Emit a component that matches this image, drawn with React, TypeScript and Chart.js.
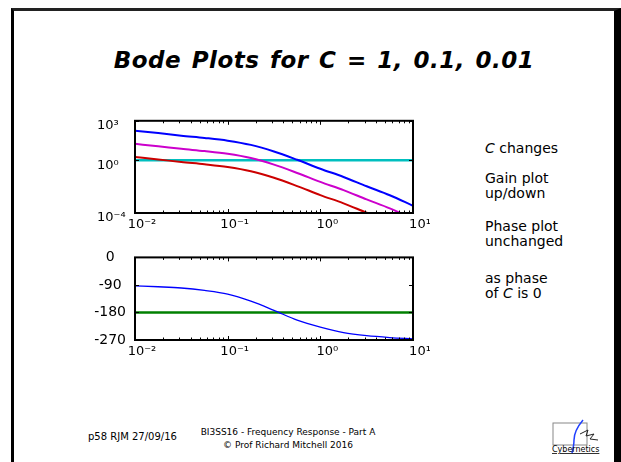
import React, { useEffect, useRef } from "react";
import { Chart, registerables } from "chart.js";
Chart.register(...registerables);

// ---- data ----
const freqs = [0.01, 0.0178, 0.0316, 0.0562, 0.1, 0.178, 0.316, 0.562, 1, 1.78, 3.16, 5.62, 10];
const gainC1 = [178, 117, 74, 50, 31, 14.8, 4.7, 1.1, 0.23, 0.054, 0.0107, 0.00224, 0.000355];
const gainC01 = [17.8, 11.7, 7.4, 5.0, 3.1, 1.48, 0.47, 0.11, 0.023, 0.0054, 0.00107, 0.000224, 0.0000355];
const gainC001 = [1.78, 1.17, 0.74, 0.5, 0.31, 0.148, 0.047, 0.011, 0.0023, 0.00054, 0.000107, 0.0000224, 0.00000355];
const gainOfC = [1, 1, 1, 1, 1, 1, 1, 1, 1, 1, 1, 1, 1];
const phaseG = [-93, -96, -100, -108, -120, -143, -173, -205, -228, -246, -256, -262, -266];
const phaseOfC = [-180, -180, -180, -180, -180, -180, -180, -180, -180, -180, -180, -180, -180];

const freqTicks = [0.01, 0.1, 1, 10];
const freqTickLabels = ["10⁻²", "10⁻¹", "10⁰", "10¹"];
const gainTicks = [1e-4, 1, 1e3];
const gainTickLabels = ["10⁻⁴", "10⁰", "10³"];
const phaseTicks = [-270, -180, -90, 0];
const phaseTickLabels = ["-270", "-180", "-90", "0"];

const FONT = "'DejaVu Sans', sans-serif";

const boxPlugin = {
  id: "bodeBox",
  afterDatasetsDraw(chart: any) {
    const { ctx, chartArea: a, scales } = chart;
    const x = scales.x;
    const y = scales.y;
    ctx.save();
    ctx.strokeStyle = "#000";
    ctx.lineWidth = 1;
    ctx.beginPath();
    for (let d = 0; d < freqTicks.length; d++) {
      const dec = freqTicks[d];
      for (let k = 1; k <= 9; k++) {
        const v = dec * k;
        if (v > freqTicks[freqTicks.length - 1] + 1e-9) break;
        const px = Math.round(x.getPixelForValue(v)) + 0.5;
        const len = k === 1 ? 4 : 2.5;
        ctx.moveTo(px, a.top);
        ctx.lineTo(px, a.top + len);
        ctx.moveTo(px, a.bottom);
        ctx.lineTo(px, a.bottom - len);
      }
    }
    for (const t of y.ticks) {
      const py = Math.round(y.getPixelForValue(t.value)) + 0.5;
      ctx.moveTo(a.left, py);
      ctx.lineTo(a.left + 4, py);
      ctx.moveTo(a.right, py);
      ctx.lineTo(a.right - 4, py);
    }
    ctx.stroke();
    ctx.lineWidth = 2;
    ctx.strokeRect(a.left, a.top, a.right - a.left, a.bottom - a.top);
    ctx.restore();
  },
};

function line(xs: number[], ys: number[], color: string, width: number) {
  return {
    data: xs.map((f, i) => ({ x: f, y: ys[i] })),
    borderColor: color,
    backgroundColor: color,
    borderWidth: width,
    pointRadius: 0,
    cubicInterpolationMode: "monotone" as const,
    fill: false,
  };
}

function xScale() {
  return {
    type: "logarithmic" as const,
    min: 0.01,
    max: 10,
    afterBuildTicks: (s: any) => {
      s.ticks = freqTicks.map((v) => ({ value: v }));
    },
    afterFit: (s: any) => {
      s.height = 22;
    },
    grid: { display: false, drawTicks: false },
    border: { display: false },
    ticks: {
      autoSkip: false,
      maxRotation: 0,
      minRotation: 0,
      padding: 4,
      labelOffset: 7,
      color: "#000",
      font: { family: FONT, size: 13 },
      callback: (_v: any, i: number) => freqTickLabels[i],
    },
  };
}

function GainChart() {
  const ref = useRef<HTMLCanvasElement>(null);
  useEffect(() => {
    const chart = new Chart(ref.current!, {
      type: "line",
      data: {
        datasets: [
          line(freqs, gainC1, "#0000ff", 2),
          line(freqs, gainC01, "#cc00cc", 2),
          line(freqs, gainC001, "#cc0000", 2),
          line(freqs, gainOfC, "#00bfbf", 2.5),
        ] as any,
      },
      options: {
        animation: false,
        responsive: false,
        maintainAspectRatio: false,
        layout: { padding: { top: 10, right: 17, left: 0, bottom: 0 } },
        plugins: { legend: { display: false }, tooltip: { enabled: false } },
        scales: {
          x: xScale() as any,
          y: {
            type: "logarithmic",
            min: 1e-4,
            max: 1e3,
            afterBuildTicks: (s: any) => {
              s.ticks = gainTicks.map((v) => ({ value: v }));
            },
            afterFit: (s: any) => {
              s.width = 38;
            },
            grid: { display: false, drawTicks: false },
            border: { display: false },
            ticks: {
              autoSkip: false,
              crossAlign: "far",
              labelOffset: 5,
              color: "#000",
              font: { family: FONT, size: 13 },
              callback: (_v: any, i: number) => gainTickLabels[i],
            },
          } as any,
        },
      },
      plugins: [boxPlugin],
    });
    return () => chart.destroy();
  }, []);
  return (
    <canvas
      ref={ref}
      width={333}
      height={125}
      style={{ position: "absolute", left: 97, top: 110, width: 333, height: 125 }}
    />
  );
}

function PhaseChart() {
  const ref = useRef<HTMLCanvasElement>(null);
  useEffect(() => {
    const chart = new Chart(ref.current!, {
      type: "line",
      data: {
        datasets: [
          line(freqs, phaseG, "#0000ff", 1.3),
          line(freqs, phaseOfC, "#008000", 2.5),
        ] as any,
      },
      options: {
        animation: false,
        responsive: false,
        maintainAspectRatio: false,
        layout: { padding: { top: 10, right: 17, left: 0, bottom: 0 } },
        plugins: { legend: { display: false }, tooltip: { enabled: false } },
        scales: {
          x: xScale() as any,
          y: {
            type: "linear",
            min: -270,
            max: 0,
            afterBuildTicks: (s: any) => {
              s.ticks = phaseTicks.map((v) => ({ value: v }));
            },
            afterFit: (s: any) => {
              s.width = 45;
            },
            grid: { display: false, drawTicks: false },
            border: { display: false },
            ticks: {
              autoSkip: false,
              crossAlign: "center",
              padding: 9,
              color: "#000",
              font: { family: FONT, size: 14 },
              callback: (_v: any, i: number) => phaseTickLabels[i],
            },
          } as any,
        },
      },
      plugins: [boxPlugin],
    });
    return () => chart.destroy();
  }, []);
  return (
    <canvas
      ref={ref}
      width={340}
      height={122}
      style={{ position: "absolute", left: 90, top: 240, width: 340, height: 122 }}
    />
  );
}

const noteLines: { text: React.ReactNode; top: number }[] = [
  { text: <><i>C</i> changes</>, top: 148 },
  { text: "Gain plot", top: 178 },
  { text: "up/down", top: 193 },
  { text: "Phase plot", top: 226 },
  { text: "unchanged", top: 241 },
  { text: "as phase", top: 278 },
  { text: <>of <i>C</i> is 0</>, top: 293 },
];

export default function App() {
  return (
    <div
      style={{
        position: "fixed",
        left: 0,
        top: 0,
        width: 621,
        height: 462,
        overflow: "hidden",
        background: "#fff",
        fontFamily: FONT,
        color: "#000",
      }}
    >
      <div
        style={{
          position: "absolute",
          left: 11,
          top: 8,
          width: 600,
          height: 480,
          borderLeft: "3px solid #000",
          borderTop: "3px solid #222",
          borderRight: "7px solid #000",
        }}
      />
      <div
        style={{
          position: "absolute",
          left: 0,
          width: 648,
          top: 45,
          textAlign: "center",
          fontSize: 23,
          fontWeight: "bold",
          fontStyle: "italic",
          letterSpacing: 0.5,
          wordSpacing: 2,
          lineHeight: "30px",
          whiteSpace: "nowrap",
        }}
      >
        Bode Plots for <span>C</span> = 1, 0.1, 0.01
      </div>
      <GainChart />
      <PhaseChart />
      {noteLines.map((l, i) => (
        <div
          key={i}
          style={{
            position: "absolute",
            left: 485,
            top: l.top - 9,
            fontSize: 14,
            lineHeight: "18px",
            whiteSpace: "nowrap",
          }}
        >
          {l.text}
        </div>
      ))}
      <div style={{ position: "absolute", left: 88, top: 431, fontSize: 10, lineHeight: "12px", whiteSpace: "nowrap" }}>
        p58 RJM 27/09/16
      </div>
      <div
        style={{
          position: "absolute",
          left: 188,
          width: 200,
          top: 426,
          fontSize: 9,
          lineHeight: "12.5px",
          textAlign: "center",
          whiteSpace: "nowrap",
        }}
      >
        BI3SS16 - Frequency Response - Part A
        <br />© Prof Richard Mitchell 2016
      </div>
      <svg style={{ position: "absolute", left: 550, top: 418 }} width={56} height={38}>
        <rect x={3} y={5} width={34} height={22} fill="none" stroke="#888" strokeWidth={1} />
        <path d="M 33 2 C 28 8, 24 14, 24 22 C 24 27, 23 31, 22 35" stroke="#2040ff" strokeWidth={1.5} fill="none" />
        <path d="M 30 16 L 38 12 L 36 18 L 44 16 L 40 21 L 48 22" stroke="#222" strokeWidth={1} fill="none" />
        <text x={2} y={34} fontSize={8} fontFamily={FONT} textDecoration="underline" fill="#000">
          Cybernetics
        </text>
      </svg>
    </div>
  );
}
